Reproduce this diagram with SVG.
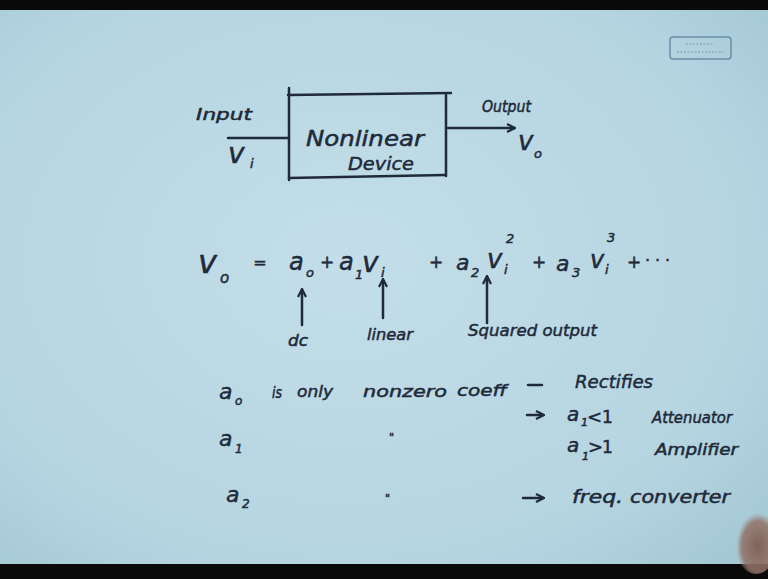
<svg xmlns="http://www.w3.org/2000/svg" width="768" height="579" viewBox="0 0 768 579">
<defs>
<radialGradient id="bg" cx="0.45" cy="0.45" r="0.75">
<stop offset="0" stop-color="#c3dee8"/>
<stop offset="0.7" stop-color="#b5d5e1"/>
<stop offset="1" stop-color="#a2c6d3"/>
</radialGradient>
<radialGradient id="hand" cx="0.55" cy="0.6" r="0.5">
<stop offset="0" stop-color="#7f6259"/>
<stop offset="0.75" stop-color="#927368" stop-opacity="0.85"/>
<stop offset="1" stop-color="#a08a80" stop-opacity="0"/>
</radialGradient>
<marker id="ah" markerWidth="10" markerHeight="10" refX="8" refY="5" orient="auto" markerUnits="userSpaceOnUse">
<path d="M1,1 L9,5 L1,9" fill="none" stroke="#1f2a3a" stroke-width="2.2"/>
</marker>
<style>
.ink{fill:#1f2a3a;stroke:#1f2a3a;stroke-width:0.5;font-family:"DejaVu Sans","Liberation Sans",sans-serif;font-style:italic}
.up{font-style:normal}
.ln{stroke:#1f2a3a;stroke-width:2.5;fill:none;stroke-linecap:round}
</style>
</defs>
<rect x="0" y="0" width="768" height="579" fill="url(#bg)"/>
<rect x="0" y="0" width="768" height="10" fill="#0a0a0a"/>
<rect x="0" y="564" width="768" height="15" fill="#0a0a0a"/>
<g id="logo">
<rect x="670" y="37" width="61" height="22" rx="3" fill="none" stroke="#6a8ea8" stroke-width="1.5"/>
<line x1="686" y1="44" x2="714" y2="44" stroke="#7c9cb4" stroke-width="1.2" stroke-dasharray="2 1.5"/>
<line x1="677" y1="52" x2="724" y2="52" stroke="#7c9cb4" stroke-width="1.2" stroke-dasharray="2 1.5"/>
</g>
<g id="device">
<line class="ln" x1="289" y1="88" x2="289" y2="180"/>
<line class="ln" x1="288" y1="95" x2="451" y2="93"/>
<line class="ln" x1="446" y1="95" x2="446" y2="176"/>
<line class="ln" x1="289" y1="178" x2="445" y2="175"/>
<text class="ink" font-size="21" x="306" y="146" textLength="118" lengthAdjust="spacingAndGlyphs">Nonlinear</text>
<text class="ink" font-size="18" x="348" y="170" textLength="66" lengthAdjust="spacingAndGlyphs">Device</text>
</g>
<g id="input">
<text class="ink" font-size="16" x="196" y="120" textLength="56" lengthAdjust="spacingAndGlyphs">Input</text>
<text class="ink" font-size="28" x="228" y="163">v</text>
<text class="ink" font-size="13" x="250" y="168">i</text>
</g>
<g id="output">
<text class="ink" font-size="15" x="482" y="112" textLength="49" lengthAdjust="spacingAndGlyphs">Output</text>
<text class="ink" font-size="26" x="518" y="150">v</text>
<text class="ink" font-size="13" x="534" y="158">o</text>
</g>
<g id="connectors">
<line class="ln" x1="228" y1="138" x2="289" y2="138"/>
<line class="ln" x1="448" y1="128" x2="514" y2="128" marker-end="url(#ah)"/>
<line class="ln" x1="302" y1="325" x2="302" y2="290" marker-end="url(#ah)"/>
<line class="ln" x1="383" y1="318" x2="383" y2="280" marker-end="url(#ah)"/>
<line class="ln" x1="487" y1="323" x2="487" y2="277" marker-end="url(#ah)"/>
<line class="ln" x1="528" y1="385" x2="542" y2="385"/>
<line class="ln" x1="527" y1="415" x2="543" y2="415" marker-end="url(#ah)"/>
<line class="ln" x1="523" y1="498" x2="543" y2="498" marker-end="url(#ah)"/>
</g>
<g id="equation">
<text class="ink" font-size="32" x="198" y="273">v</text>
<text class="ink" font-size="15" x="220" y="283">o</text>
<text class="ink up" font-size="16" x="260" y="268" text-anchor="middle">=</text>
<text class="ink" font-size="24" x="289" y="270">a</text>
<text class="ink" font-size="13" x="306" y="277">o</text>
<text class="ink up" font-size="17" x="327" y="268" text-anchor="middle">+</text>
<text class="ink" font-size="24" x="339" y="270">a</text>
<text class="ink" font-size="13" x="355" y="279">1</text>
<text class="ink" font-size="28" x="362" y="272">v</text>
<text class="ink" font-size="13" x="381" y="277">i</text>
<text class="ink up" font-size="17" x="436" y="268" text-anchor="middle">+</text>
<text class="ink" font-size="22" x="456" y="270">a</text>
<text class="ink" font-size="13" x="471" y="277">2</text>
<text class="ink" font-size="26" x="487" y="268">v</text>
<text class="ink" font-size="13" x="504" y="274">i</text>
<text class="ink" font-size="13" x="506" y="243">2</text>
<text class="ink up" font-size="17" x="539" y="268" text-anchor="middle">+</text>
<text class="ink" font-size="22" x="556" y="271">a</text>
<text class="ink" font-size="13" x="572" y="277">3</text>
<text class="ink" font-size="24" x="590" y="268">v</text>
<text class="ink" font-size="13" x="605" y="274">i</text>
<text class="ink" font-size="13" x="607" y="242">3</text>
<text class="ink up" font-size="17" x="634" y="268" text-anchor="middle">+</text>
<text class="ink up" font-size="16" x="645" y="266" textLength="25" lengthAdjust="spacing">· · ·</text>
</g>
<g id="labels">
<text class="ink" font-size="15" x="288" y="346" textLength="20" lengthAdjust="spacingAndGlyphs">dc</text>
<text class="ink" font-size="16" x="367" y="340" textLength="46" lengthAdjust="spacingAndGlyphs">linear</text>
<text class="ink" font-size="16" x="468" y="336" textLength="129" lengthAdjust="spacingAndGlyphs">Squared output</text>
</g>
<g id="table">
<text class="ink" font-size="22" x="219" y="399">a</text>
<text class="ink" font-size="12" x="235" y="405">o</text>
<text class="ink" font-size="15" x="272" y="398" textLength="10" lengthAdjust="spacingAndGlyphs">is</text>
<text class="ink" font-size="16" x="297" y="397" textLength="36" lengthAdjust="spacingAndGlyphs">only</text>
<text class="ink" font-size="16" x="363" y="397" textLength="84" lengthAdjust="spacingAndGlyphs">nonzero</text>
<text class="ink" font-size="16" x="457" y="396" textLength="50" lengthAdjust="spacingAndGlyphs">coeff</text>
<text class="ink" font-size="18" x="575" y="388" textLength="78" lengthAdjust="spacingAndGlyphs">Rectifies</text>
<text class="ink" font-size="22" x="219" y="446">a</text>
<text class="ink" font-size="12" x="235" y="453">1</text>
<text class="ink" font-size="11" x="389" y="441">"</text>
<text class="ink" font-size="20" x="567" y="421">a</text>
<text class="ink" font-size="11" x="581" y="426">1</text>
<text class="ink up" font-size="18" x="587" y="423">&lt;</text>
<text class="ink up" font-size="17" x="602" y="423">1</text>
<text class="ink" font-size="15" x="652" y="423" textLength="80" lengthAdjust="spacingAndGlyphs">Attenuator</text>
<text class="ink" font-size="20" x="567" y="452">a</text>
<text class="ink" font-size="11" x="582" y="460">1</text>
<text class="ink up" font-size="18" x="588" y="453">&gt;</text>
<text class="ink up" font-size="17" x="602" y="453">1</text>
<text class="ink" font-size="15" x="655" y="455" textLength="83" lengthAdjust="spacingAndGlyphs">Amplifier</text>
<text class="ink" font-size="22" x="226" y="502">a</text>
<text class="ink" font-size="12" x="242" y="508">2</text>
<text class="ink" font-size="11" x="385" y="502">"</text>
<text class="ink" font-size="17" x="572" y="503" textLength="51" lengthAdjust="spacingAndGlyphs">freq.</text>
<text class="ink" font-size="17" x="630" y="503" textLength="100" lengthAdjust="spacingAndGlyphs">converter</text>
</g>
<ellipse cx="756" cy="540" rx="22" ry="34" fill="url(#hand)"/>
</svg>
